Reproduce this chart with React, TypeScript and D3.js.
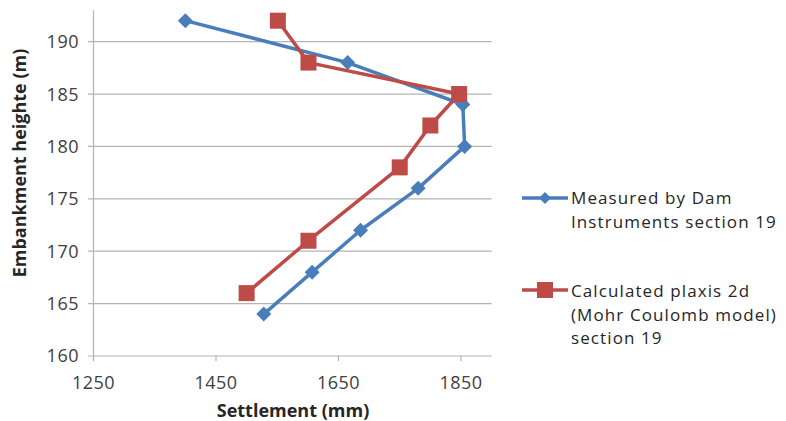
import React from "react";
import * as d3 from "d3";

const measuredX = [1400, 1665, 1853, 1856, 1780, 1686, 1607, 1528];
const measuredY = [192, 188, 184, 180, 176, 172, 168, 164];
const calcX = [1551, 1601, 1847, 1800, 1750, 1601, 1500];
const calcY = [192, 188, 185, 182, 178, 171, 166];
const xTicks = [1250, 1450, 1650, 1850];
const yTicks = [160, 165, 170, 175, 180, 185, 190];
const legendMeasured = ["Measured by Dam", "Instruments section 19"];
const legendCalc = ["Calculated plaxis 2d", "(Mohr Coulomb model)", "section 19"];

const BLUE = "#4A7EBB";
const RED = "#BE4B48";
const GRID = "#b3b3b3";
const FONT = "'Open Sans', sans-serif";

export default function App() {
  const W = 786, H = 421;
  const x = d3.scaleLinear().domain([1250, 1900]).range([93.5, 491.6]);
  const y = d3.scaleLinear().domain([160, 193]).range([356, 10.2]);
  const line = d3.line<[number, number]>().x(d => x(d[0])).y(d => y(d[1]));
  const mPts = measuredX.map((v, i) => [v, measuredY[i]] as [number, number]);
  const cPts = calcX.map((v, i) => [v, calcY[i]] as [number, number]);
  const diamond = (cx: number, cy: number, r: number) =>
    `M${cx},${cy - r}L${cx + r},${cy}L${cx},${cy + r}L${cx - r},${cy}Z`;

  return (
    <svg width={W} height={H} style={{ position: "absolute", left: 0, top: 0, background: "#fff" }}>
      <rect width={W} height={H} fill="#fff" />
      {yTicks.map(t => (
        <g key={t}>
          <line x1={88} x2={491.6} y1={y(t)} y2={y(t)} stroke={GRID} strokeWidth={1.2} />
          <text x={79} y={y(t)} dy="0.36em" textAnchor="end" fontFamily={FONT} fontSize={18} letterSpacing={0.5} fill="#404040">{t}</text>
        </g>
      ))}
      <line x1={x(1250)} x2={x(1250)} y1={y(193)} y2={y(160) + 5} stroke={GRID} strokeWidth={1.2} />
      {xTicks.map(t => (
        <g key={t}>
          <line x1={x(t)} x2={x(t)} y1={y(160)} y2={y(160) + 5} stroke={GRID} strokeWidth={1.2} />
          <text x={x(t)} y={389} textAnchor="middle" fontFamily={FONT} fontSize={18} letterSpacing={0.5} fill="#404040">{t}</text>
        </g>
      ))}
      <text x={293} y={417} textAnchor="middle" fontFamily={FONT} fontSize={18} fontWeight="bold" fill="#262626">Settlement (mm)</text>
      <text transform="translate(26,163) rotate(-90)" textAnchor="middle" fontFamily={FONT} fontSize={18} fontWeight="bold" fill="#262626">Embankment heighte (m)</text>

      <path d={line(mPts) || ""} fill="none" stroke={BLUE} strokeWidth={3.5} strokeLinejoin="round" />
      <path d={line(cPts) || ""} fill="none" stroke={RED} strokeWidth={3.5} strokeLinejoin="round" />
      {mPts.map((p, i) => (
        <path key={"m" + i} d={diamond(x(p[0]), y(p[1]), 7.5)} fill={BLUE} />
      ))}
      {cPts.map((p, i) => (
        <rect key={"c" + i} x={x(p[0]) - 8} y={y(p[1]) - 8} width={16} height={16} fill={RED} />
      ))}

      <line x1={522} x2={568} y1={198} y2={198} stroke={BLUE} strokeWidth={3.5} />
      <path d={diamond(545, 198, 6)} fill={BLUE} />
      {legendMeasured.map((s, i) => (
        <text key={s} x={571} y={204 + i * 23.5} fontFamily={FONT} fontSize={17} letterSpacing={1.1} fill="#262626">{s}</text>
      ))}
      <line x1={522} x2={568} y1={290} y2={290} stroke={RED} strokeWidth={3.5} />
      <rect x={537} y={282} width={16} height={16} fill={RED} />
      {legendCalc.map((s, i) => (
        <text key={s} x={571} y={297 + i * 23.5} fontFamily={FONT} fontSize={17} letterSpacing={1.1} fill="#262626">{s}</text>
      ))}
    </svg>
  );
}
